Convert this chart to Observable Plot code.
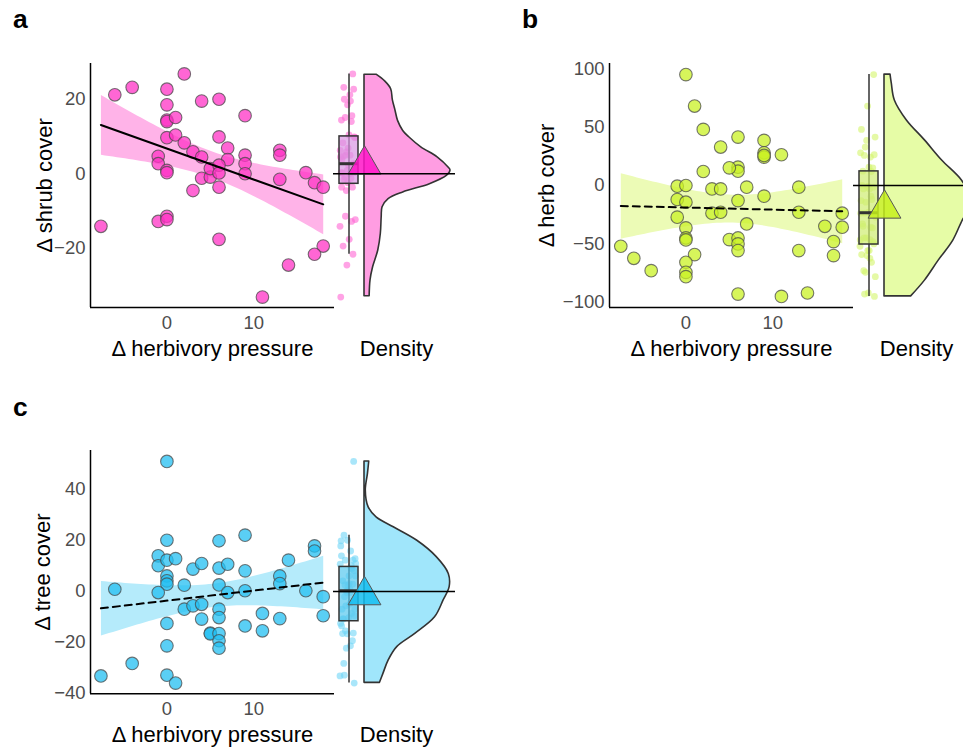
<!DOCTYPE html>
<html><head><meta charset="utf-8">
<script src="https://cdn.jsdelivr.net/npm/d3@7"></script>
<script src="https://cdn.jsdelivr.net/npm/@observablehq/plot@0.6"></script>
<style>
body{margin:0;background:#fff;}
#chart{position:relative;width:963px;height:748px;overflow:hidden;font-family:"Liberation Sans",Arial,sans-serif;}
#chart svg{position:absolute;overflow:visible;}
</style></head><body><div id="chart"></div>
<script>
// ---------- data ----------
const xLabel = "Δ herbivory pressure";
const densityLabel = "Density";
const xTicks = [0, 10];

const shrubX = [-7.6,-6,-4,0,0,0,0,1,0,1,2,2,3,4,4,6,6,7,7,9,9,9,9,-1,-1,0,0,4,5,5,6,6,6,3,13,13,13,16,17,18,-1,0,0,6,18,17,14,11];
const shrubY = [-14.1,21.2,23.2,22.7,18.5,14.4,14,15.1,9.7,10.4,8.3,26.8,5.9,4.5,19.5,20,9.9,6.9,3.8,15.6,5,2.7,0,4.7,2.7,0.9,0.3,-1.2,-0.9,1.4,2.3,0.2,-3.6,-4.5,6.3,5,-1.5,0.3,-2.4,-3.6,-12.8,-11.4,-12.3,-17.6,-19.4,-21.6,-24.5,-33.1];
const shrubTicks = [-20, 0, 20];
const shrubDensY = [26.6,24.8,22.7,19.7,17.0,14.2,11.5,9.8,7.1,4.4,1.6,0.9,-0.5,-2.8,-5.0,-6.8,-9.0,-11.6,-16.1,-20.6,-25.1,-28.6,-32.9];
const shrubDensW = [0.14,0.24,0.31,0.33,0.36,0.39,0.45,0.52,0.66,0.85,0.98,1.0,0.96,0.76,0.45,0.28,0.21,0.20,0.19,0.16,0.10,0.07,0.06];

const herbX = [-7.5,-6,-4,0,1,2,2,4,6,6,6,5,9,9,9,9,11,-1,0,-1,0,-1,3,4,7,13,6,9,3,4,13,7,0,0,0,5,6,6,6,1,0,0,0,13,16,17,17,18,18,6,11,14];
const herbY = [-52,-62.3,-72.9,94.9,68,48,12,32.9,41.4,15.7,12.3,15.1,38.6,28,24.3,25.7,26.3,-0.6,0,-12,-14.3,-27.1,-2.9,-2.9,-1.4,-1.4,-12.9,-9.1,-23.7,-22.9,-22.9,-32.9,-36.3,-44.9,-46.6,-46.3,-44.9,-50,-55.7,-59.1,-65.7,-74.3,-78,-55.7,-34.9,-48,-60,-23.7,-35.7,-92.9,-94.9,-92];
const herbTicks = [-100, -50, 0, 50, 100];
const herbDensY = [94.9,87.1,72.8,55.7,38.6,21.4,4.3,-8.6,-21.4,-30,-47.1,-64.3,-81.4,-94.9];
const herbDensW = [0.07,0.085,0.12,0.26,0.47,0.67,0.9,0.99,0.98,0.91,0.8,0.63,0.47,0.31];

const treeX = [-7.6,-6,-4,0,0,-1,-1,0,1,0,0,0,-1,0,0,0,1,2,2,3,3,4,4,4,5,5,6,6,6,6,6,6,6,6,7,7,9,9,9,9,11,11,13,13,13,14,16,17,17,18,18];
const treeY = [-33.1,0.9,-28.2,51,20.1,14,10.1,12.3,12.9,6.1,4.2,2.9,-0.4,-12.5,-21.3,-32.8,-35.9,2.5,-6.9,8.8,-5.6,11,-5,-10.8,-16.3,-16.6,19.9,9.2,2.6,-6.9,-10.2,-16.5,-19.3,-22.2,10.7,-0.4,22.1,8.1,0.3,-13.5,-8.6,-15.4,6.1,3.1,-10.6,12.3,0.3,17.9,15.9,-2,-9.5];
const treeTicks = [-40, -20, 0, 20, 40];
const treeDensY = [51,46.1,39.6,33.1,29.1,25.2,20,13.5,6.9,1.7,-3.5,-10.1,-16.6,-21.8,-27.1,-32.3,-35.8];
const treeDensW = [0.055,0.04,0.015,0.047,0.14,0.34,0.61,0.84,0.98,0.99,0.92,0.82,0.59,0.38,0.28,0.22,0.18];

// ---------- layout / style ----------
const FONT = "Liberation Sans, Arial, sans-serif";
const xDomain = [-8.8, 19.3];
const panels = [
  {tag: "a", x: shrubX, y: shrubY, ticks: shrubTicks, yDomain: [-35.9, 29.6], yLabel: "Δ shrub cover",
   dashed: false, fx0: 90, fx1: 334, fy0: 63, fy1: 307, dx0: 333, ylabDx: -46,
   dens: [shrubDensY, shrubDensW],
   col: {point: "#ff33c5", band: "#ffb3e8", violin: "#ff9de2", jitter: "#ff66d4", box: "#d996e2", tri: "#ff14c8"}},
  {tag: "b", x: herbX, y: herbY, ticks: herbTicks, yDomain: [-104.4, 104.4], yLabel: "Δ herb cover",
   dashed: true, fx0: 609, fx1: 853, fy0: 63, fy1: 307, dx0: 853, ylabDx: -63,
   dens: [herbDensY, herbDensW],
   col: {point: "#c9f124", band: "#ecfbb6", violin: "#e6fca6", jitter: "#d4f56a", box: "#cfec70", tri: "#c6f01c"}},
  {tag: "c", x: treeX, y: treeY, ticks: treeTicks, yDomain: [-40.1, 55.3], yLabel: "Δ tree cover",
   dashed: true, fx0: 90, fx1: 334, fy0: 450, fy1: 693.3, dx0: 333, ylabDx: -48,
   dens: [treeDensY, treeDensW],
   col: {point: "#23bff1", band: "#b5ebfb", violin: "#a0e6fb", jitter: "#6fd6f7", box: "#55c8ee", tri: "#14bdf0"}}
];

const chart = document.getElementById("chart");
const ML = 90, MR = 6, MT = 63, MB = 63;
const jit = i => ((i * 0.6180339887) % 1) * 2 - 1;

function place(svg, left, top) {
  svg.style.left = left + "px";
  svg.style.top = top + "px";
  chart.appendChild(svg);
}

for (const p of panels) {
  const data = p.x.map((x, i) => ({x, y: p.y[i]}));
  const W = p.fx1 - p.fx0 + ML + MR;
  const H = p.fy1 - p.fy0 + MT + MB;
  const style = {fontFamily: FONT, background: "transparent", overflow: "visible"};

  const scatter = Plot.plot({
    width: W, height: H, marginLeft: ML, marginRight: MR, marginTop: MT, marginBottom: MB,
    x: {domain: xDomain}, y: {domain: p.yDomain},
    style,
    marks: [
      Plot.linearRegressionY(data, {x: "x", y: "y", stroke: "none", fill: p.col.band, fillOpacity: 1, ci: 0.95}),
      Plot.dot(data, {x: "x", y: "y", r: 6.3, fill: p.col.point, fillOpacity: 0.75, stroke: "#4a4a4a", strokeOpacity: 0.75, strokeWidth: 1.1}),
      Plot.linearRegressionY(data, {x: "x", y: "y", stroke: "black", strokeWidth: 2, ci: 0, strokeDasharray: p.dashed ? "7,5" : null}),
      Plot.ruleX([xDomain[0]], {stroke: "black", strokeWidth: 1.5}),
      Plot.ruleY([p.yDomain[0]], {stroke: "black", strokeWidth: 1.5}),
      Plot.axisX({ticks: xTicks, tickSize: 0, tickPadding: 8, fontSize: 18.5, color: "#4d4d4d", label: null}),
      Plot.axisY({ticks: p.ticks, tickSize: 0, tickPadding: 5, fontSize: 18.5, color: "#4d4d4d", label: null}),
      Plot.text([xLabel], {text: d => d, frameAnchor: "bottom", dy: 41, fontSize: 22, fill: "black", lineAnchor: "middle"}),
      Plot.text([p.yLabel], {text: d => d, frameAnchor: "left", dx: p.ylabDx, rotate: -90, textAnchor: "middle", lineAnchor: "middle", fontSize: 22, fill: "black"})
    ]
  });
  place(scatter, p.fx0 - ML, p.fy0 - MT);

  // density panel
  const sorted = p.y.slice().sort(d3.ascending);
  const q1 = d3.quantile(sorted, 0.25), med = d3.quantile(sorted, 0.5), q3 = d3.quantile(sorted, 0.75);
  const iqr = q3 - q1;
  const lo = d3.min(sorted.filter(v => v >= q1 - 1.5 * iqr));
  const hi = d3.max(sorted.filter(v => v <= q3 + 1.5 * iqr));
  const box = {q1, med, q3, lo, hi};
  const mean = d3.mean(p.y);
  const dData = p.dens[0].map((y, i) => ({y, w: p.dens[1][i]}));
  const DW = 122, DM = 33;
  const base = 31, maxW = 86;

  const dens = Plot.plot({
    width: DW + 2 * DM, height: H, marginLeft: DM, marginRight: DM, marginTop: MT, marginBottom: MB,
    x: {domain: [0, DW], axis: null}, y: {domain: p.yDomain, axis: null},
    style,
    marks: [
      Plot.dot(data, {x: (d, i) => 14.5 + jit(i) * 8, y: "y", r: 3.4, fill: p.col.jitter, fillOpacity: 0.6}),
      Plot.ruleX([box], {x: 15.5, y1: "lo", y2: "hi", stroke: "#333", strokeWidth: 1.5}),
      Plot.rect([box], {x1: 6, x2: 25, y1: "q1", y2: "q3", fill: p.col.box, fillOpacity: 0.7, stroke: "#333", strokeWidth: 1.5}),
      Plot.ruleY([box], {x1: 6, x2: 25, y: "med", stroke: "#333", strokeWidth: 3}),
      Plot.areaX(dData, {x1: base, x2: d => base + d.w * maxW, y: "y", fill: p.col.violin, stroke: "#333", strokeWidth: 1.6, curve: "catmull-rom"}),
      Plot.dot([mean], {x: base, y: d => d, symbol: "triangle", r: 12.2, fill: p.col.tri, fillOpacity: 0.85, stroke: "#555", strokeWidth: 1}),
      Plot.ruleY([0], {stroke: "black", strokeWidth: 1.5}),
      Plot.text([densityLabel], {text: d => d, x: DW / 2 + 2, frameAnchor: "bottom", dy: 41, fontSize: 22, fill: "black", lineAnchor: "middle"})
    ]
  });
  place(dens, p.dx0 - DM, p.fy0 - MT);
}

// panel tags
const ns = "http://www.w3.org/2000/svg";
const tagSvg = document.createElementNS(ns, "svg");
tagSvg.setAttribute("width", 963); tagSvg.setAttribute("height", 748);
tagSvg.style.left = "0px"; tagSvg.style.top = "0px";
[["a", 13, 28], ["b", 522, 28], ["c", 13, 416]].forEach(([t, x, y]) => {
  const el = document.createElementNS(ns, "text");
  el.setAttribute("x", x); el.setAttribute("y", y);
  el.setAttribute("font-family", FONT); el.setAttribute("font-size", 26.4);
  el.setAttribute("font-weight", "bold");
  el.textContent = t;
  tagSvg.appendChild(el);
});
chart.appendChild(tagSvg);
</script></body></html>
